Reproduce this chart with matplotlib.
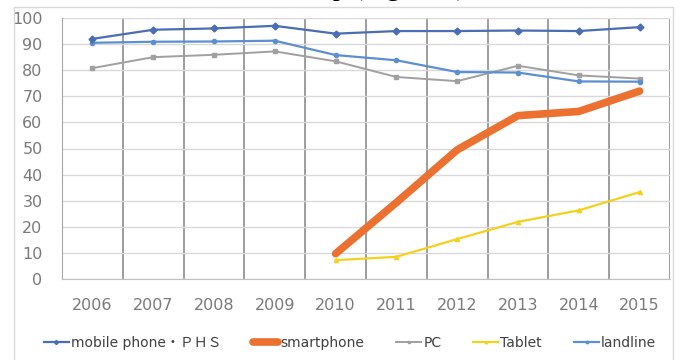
import matplotlib
matplotlib.use('Agg')
import matplotlib.pyplot as plt
from matplotlib.ticker import FixedLocator
import numpy as np

plt.rcParams['font.family'] = ['DejaVu Sans', 'Noto Sans CJK JP']

years = ['2006', '2007', '2008', '2009', '2010', '2011', '2012', '2013', '2014', '2015']
mobile = [92.0, 95.5, 96.0, 97.0, 94.0, 95.0, 95.0, 95.2, 95.0, 96.5]
smartphone = [None, None, None, None, 9.7, 29.3, 49.5, 62.6, 64.2, 72.0]
pc = [80.8, 85.0, 85.9, 87.2, 83.4, 77.4, 75.8, 81.7, 78.0, 76.8]
tablet = [None, None, None, None, 7.2, 8.5, 15.3, 21.9, 26.3, 33.3]
landline = [90.5, 90.9, 91.0, 91.3, 85.8, 83.8, 79.3, 79.1, 75.7, 75.6]
yticks = [0, 10, 20, 30, 40, 50, 60, 70, 80, 90, 100]

def arr(v):
  return np.array([np.nan if x is None else x for x in v])

fig = plt.figure(figsize=(6.8, 3.6), dpi=100)
ax = fig.add_axes([62/680, 1 - 279/360, 608/680, 261/360])
X = np.arange(len(years))

ax.plot(X, arr(mobile), '-D', color='#4A6DB3', lw=1.6, ms=3.5, label='mobile phone・ＰＨＳ', zorder=5)
ax.plot(X, arr(smartphone), '-', color='#EC7130', lw=5.5, solid_capstyle='round', label='smartphone', zorder=4)
ax.plot(X, arr(pc), '-s', color='#A0A0A0', lw=1.4, ms=3, label='PC', zorder=3)
ax.plot(X, arr(tablet), '-^', color='#F2D21C', lw=1.6, ms=3, label='Tablet', zorder=3)
ax.plot(X, arr(landline), '-o', color='#5B8FD0', lw=1.6, ms=3, label='landline', zorder=4)

ax.set_xlim(-0.5, len(years) - 0.5)
ax.set_ylim(0, 100)
ax.set_yticks(yticks)
ax.set_xticks(X)
ax.set_xticklabels(years)
ax.xaxis.set_minor_locator(FixedLocator(np.arange(-0.5, len(years), 1.0)))
ax.grid(axis='y', color='#D9D9D9', lw=1.0)
ax.grid(axis='x', which='minor', color='#8C8C8C', lw=1.2)
ax.tick_params(axis='both', which='both', length=0, labelsize=11.5, colors='#7A7A7A')
ax.tick_params(axis='y', pad=14)
ax.tick_params(axis='x', pad=14)
for s in ['top', 'right']:
  ax.spines[s].set_visible(False)
ax.spines['left'].set_color('#A6A6A6')
ax.spines['bottom'].set_color('#BFBFBF')
ax.set_axisbelow(True)

# chart frame
fig.add_artist(plt.Rectangle((14/680, -0.1), 659/680, 1.08, fill=False,
                             ec='#D9D9D9', lw=1.0, transform=fig.transFigure))

# title sits above the crop, only its descenders show
fig.text(466/680, 1 + 5/360, 'Ownership (Figure 1)', ha='right', va='baseline',
         fontsize=20, family='Liberation Serif', color='black')

leg = fig.legend(loc='center', bbox_to_anchor=(350/680, 1 - 343/360), ncol=5,
                 frameon=False, fontsize=10, handlelength=1.8, handletextpad=0.15,
                 columnspacing=2.3, markerscale=0.6, labelcolor='#404040')

plt.savefig('out.png', dpi=100)
